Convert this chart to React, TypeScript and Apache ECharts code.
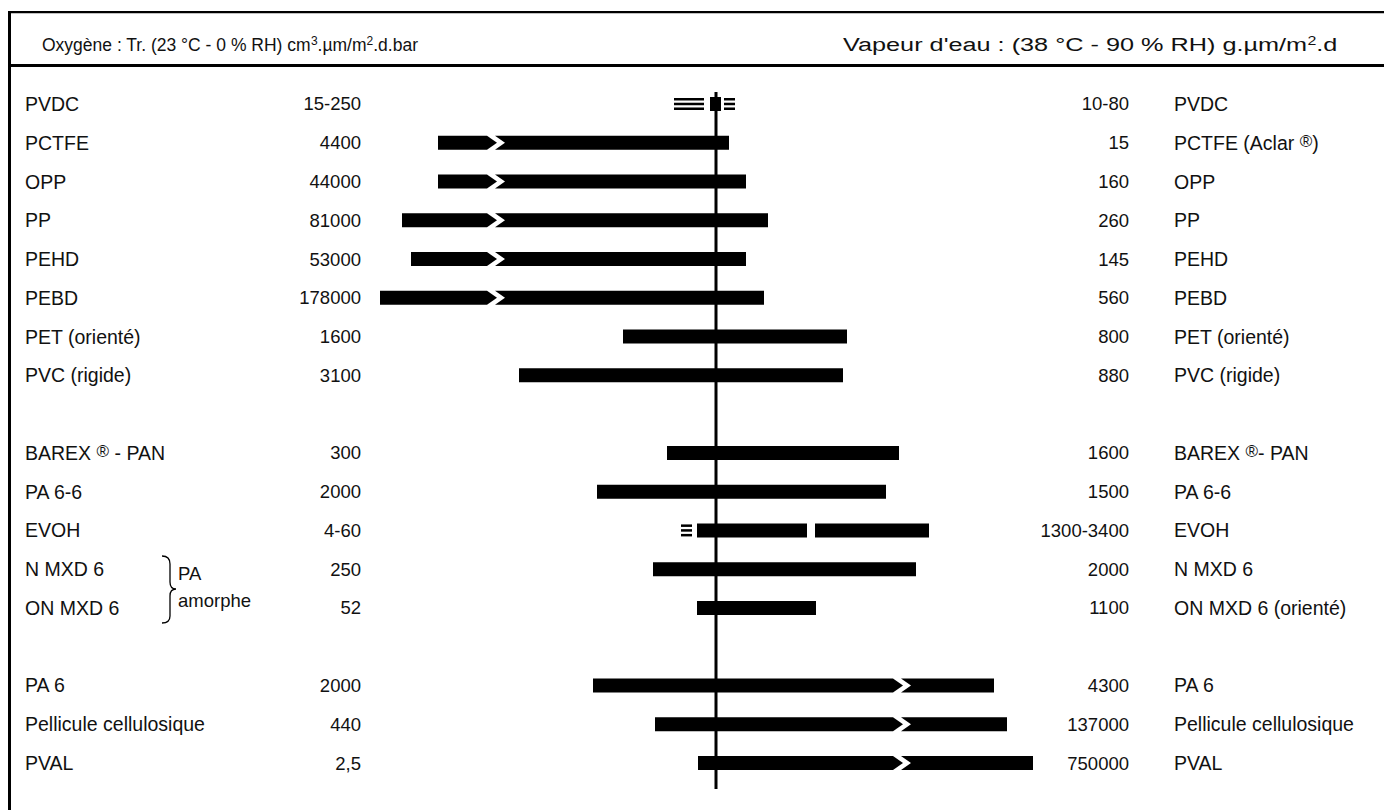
import React, { useEffect, useRef } from "react";
import * as echarts from "echarts";

// ---------- data ----------
const leftNames = [
  "PVDC", "PCTFE", "OPP", "PP", "PEHD", "PEBD", "PET (orienté)", "PVC (rigide)", "",
  "BAREX ® - PAN", "PA 6-6", "EVOH", "N MXD 6", "ON MXD 6", " ",
  "PA 6", "Pellicule cellulosique", "PVAL",
];
const rightNames = [
  "PVDC", "PCTFE (Aclar ®)", "OPP", "PP", "PEHD", "PEBD", "PET (orienté)", "PVC (rigide)", "",
  "BAREX ®- PAN", "PA 6-6", "EVOH", "N MXD 6", "ON MXD 6 (orienté)", " ",
  "PA 6", "Pellicule cellulosique", "PVAL",
];
const oxLabels = [
  "15-250", "4400", "44000", "81000", "53000", "178000", "1600", "3100", "",
  "300", "2000", "4-60", "250", "52", " ",
  "2000", "440", "2,5",
];
const wvLabels = [
  "10-80", "15", "160", "260", "145", "560", "800", "880", "",
  "1600", "1500", "1300-3400", "2000", "1100", " ",
  "4300", "137000", "750000",
];
// schematic bar lengths (left = oxygen, right = water vapour)
const oxSolid = [6, 278, 278, 314, 305, 336, 93, 197, null, 49, 119, 19, 63, 19, null, 123, 61, 18];
const wvSolid = [5, 13, 30, 52, 30, 48, 131, 127, null, 183, 170, 91, 200, 100, null, 278, 291, 317];
const oxBreak = [null, 219, 219, 219, 219, 219, null, null, null, null, null, null, null, null, null, null, null, null];
const wvBreak = [null, null, null, null, null, null, null, null, null, null, null, null, null, null, null, 187, 187, 187];
const oxHatch = [[12, 42], null, null, null, null, null, null, null, null, null, null, [24, 35], null, null, null, null, null, null];
const wvHatch = [[8, 19], null, null, null, null, null, null, null, null, null, null, null, null, null, null, null, null, null];
const wvExtra = [null, null, null, null, null, null, null, null, null, null, null, [99, 213], null, null, null, null, null, null];

const FONT = "'Liberation Sans', Arial, Helvetica, sans-serif";
const INK = "#111";

echarts.graphic.registerShape(
  "brace",
  echarts.graphic.extendPath(
    "M162,556 Q170,556 170,564 L170,582 Q170,589 176,589 Q170,589 170,596 L170,616 Q170,623 162,623",
    {}
  )
);

const H = 14;
const D = 10;
const G = 8;

function piece(xa: number, xb: number, leftCut: boolean, rightCut: boolean, cy: number) {
  const y0 = cy - H / 2;
  const y1 = cy + H / 2;
  const pts: number[][] = [];
  pts.push(leftCut ? [xa - D + G, y0] : [xa, y0]);
  if (rightCut) pts.push([xb - D, y0], [xb, cy], [xb - D, y1]);
  else pts.push([xb, y0], [xb, y1]);
  if (leftCut) pts.push([xa - D + G, y1], [xa + G, cy]);
  else pts.push([xa, y1]);
  return { type: "polygon", shape: { points: pts }, style: { fill: "#000" } };
}

function hatch(xa: number, xb: number, cy: number) {
  return [-6, -1.25, 3.5].map((o) => ({
    type: "rect",
    shape: { x: xa, y: cy + o, width: xb - xa, height: 2.5 },
    style: { fill: "#000" },
  }));
}

function renderBars(_params: any, api: any) {
  const i = api.value(1);
  const cy = api.coord([0, i])[1];
  const px = (v: number) => api.coord([v, i])[0];
  const children: any[] = [];
  const ox = oxSolid[i];
  const wv = wvSolid[i];
  if (ox != null && wv != null) {
    const xa = px(-ox);
    const xb = px(wv);
    const cuts: number[] = [];
    if (oxBreak[i] != null) cuts.push(px(-(oxBreak[i] as number)));
    if (wvBreak[i] != null) cuts.push(px(wvBreak[i] as number));
    cuts.sort((a, b) => a - b);
    let start = xa;
    let startCut = false;
    for (const t of cuts) {
      children.push(piece(start, t, startCut, true, cy));
      start = t;
      startCut = true;
    }
    children.push(piece(start, xb, startCut, false, cy));
  }
  const oh = oxHatch[i];
  if (oh) children.push(...hatch(px(-oh[1]), px(-oh[0]), cy));
  const wh = wvHatch[i];
  if (wh) children.push(...hatch(px(wh[0]), px(wh[1]), cy));
  const we = wvExtra[i];
  if (we) {
    children.push({
      type: "rect",
      shape: { x: px(we[0]), y: cy - H / 2, width: px(we[1]) - px(we[0]), height: H },
      style: { fill: "#000" },
    });
  }
  return { type: "group", children };
}

function renderCenter(_params: any, api: any) {
  const x = api.coord([0, 0])[0];
  return {
    type: "line",
    shape: { x1: x, y1: 92, x2: x, y2: 789 },
    style: { stroke: "#000", lineWidth: 3 },
  };
}

const rich = {
  r: { fontFamily: FONT, fontSize: 17, lineHeight: 12, verticalAlign: "top", color: INK },
  sup: { fontFamily: FONT, fontSize: 12, lineHeight: 12, verticalAlign: "top", color: INK },
};
const fmt = (s: string) => s.replace("®", "{r|®}");

function labelAxis(
  data: string[],
  position: string,
  offset: number,
  align: string,
  margin: number,
  fontSize: number
) {
  return {
    type: "category",
    inverse: true,
    data,
    position,
    offset,
    axisLine: { show: false, onZero: false },
    axisTick: { show: false },
    splitLine: { show: false },
    axisLabel: {
      show: true,
      interval: 0,
      align,
      margin,
      fontFamily: FONT,
      fontSize,
      lineHeight: 20,
      color: INK,
      formatter: fmt,
      rich,
    },
  };
}

export default function App() {
  const ref = useRef<HTMLDivElement>(null);
  useEffect(() => {
    const chart = echarts.init(ref.current as HTMLDivElement, null, { renderer: "svg" });
    const rows = leftNames.map((_, i) => i).filter((i) => oxSolid[i] != null);
    const option: any = {
      animation: false,
      backgroundColor: "#fff",
      grid: { left: 370, width: 670, top: 84.6, height: 697.8 },
      xAxis: { type: "value", min: -346, max: 324, show: false },
      yAxis: [
        {
          type: "category",
          inverse: true,
          data: leftNames,
          position: "left",
          axisLine: { show: false, onZero: false },
          axisTick: { show: false },
          axisLabel: { show: false },
          splitLine: { show: false },
        },
        labelAxis(oxLabels, "left", 0, "right", 9, 18.5),
        labelAxis(leftNames, "left", 345, "left", 0, 19.5),
        labelAxis(wvLabels, "right", 89, "right", 0, 18.5),
        labelAxis(rightNames, "right", 134, "left", 0, 19.5),
      ],
      series: [
        {
          type: "custom",
          silent: true,
          renderItem: renderBars,
          data: rows.map((i) => [0, i]),
          encode: { x: 0, y: 1 },
        },
        {
          type: "custom",
          silent: true,
          renderItem: renderCenter,
          data: [[0, 0]],
          encode: { x: 0, y: 1 },
          z: 3,
        },
      ],
      graphic: [
        { type: "rect", shape: { x: 8, y: 11, width: 1376, height: 2.2 }, style: { fill: "#000" } },
        { type: "rect", shape: { x: 8, y: 64, width: 1376, height: 3 }, style: { fill: "#000" } },
        { type: "rect", shape: { x: 8, y: 11, width: 3, height: 799 }, style: { fill: "#000" } },
        {
          type: "text",
          x: 42,
          y: 45,
          style: {
            text: "Oxygène : Tr. (23 °C - 0 % RH) cm{sup|3}.µm/m{sup|2}.d.bar",
            fontFamily: FONT,
            fontSize: 17.5,
            lineHeight: 20,
            fill: INK,
            verticalAlign: "middle",
            rich,
          },
        },
        {
          type: "text",
          x: 843,
          y: 45,
          scaleX: 1.33,
          style: {
            text: "Vapeur d'eau : (38 °C - 90 % RH) g.µm/m{sup|2}.d",
            fontFamily: FONT,
            fontSize: 19,
            lineHeight: 20,
            fill: INK,
            verticalAlign: "middle",
            rich,
          },
        },
        {
          type: "text",
          x: 178,
          y: 573,
          style: { text: "PA", fontFamily: FONT, fontSize: 18.5, fill: INK, verticalAlign: "middle" },
        },
        {
          type: "text",
          x: 178,
          y: 600,
          style: { text: "amorphe", fontFamily: FONT, fontSize: 18.5, fill: INK, verticalAlign: "middle" },
        },
        { type: "brace", x: 0, y: 0, style: { fill: "none", stroke: "#000", lineWidth: 1.3 } },
      ],
    };
    chart.setOption(option);
    return () => chart.dispose();
  }, []);
  return (
    <div
      ref={ref}
      style={{ position: "fixed", left: 0, top: 0, width: 1384, height: 810, background: "#fff" }}
    />
  );
}
